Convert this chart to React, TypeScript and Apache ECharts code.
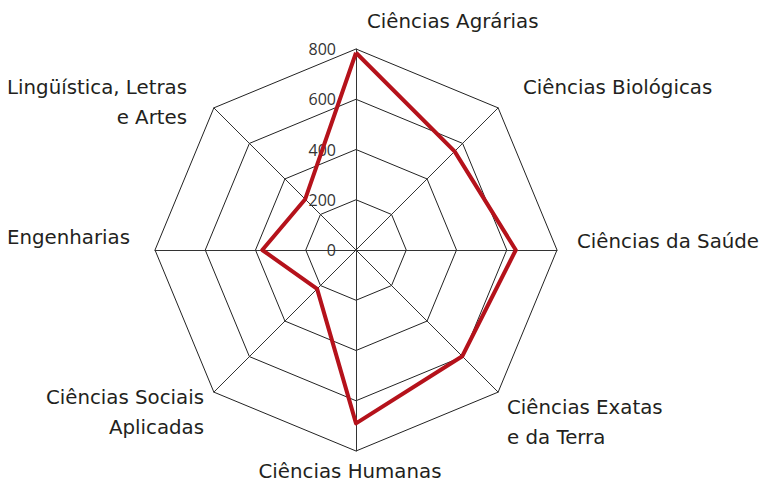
import React, { useEffect, useRef } from "react";
import * as echarts from "echarts";

// Clockwise from the top in the picture
const categories = [
  "Ciências Agrárias",
  "Ciências Biológicas",
  "Ciências da Saúde",
  "Ciências Exatas\ne da Terra",
  "Ciências Humanas",
  "Ciências Sociais\nAplicadas",
  "Engenharias",
  "Lingüística, Letras\ne Artes",
];
const values = [785, 555, 636, 598, 690, 219, 373, 286];
const axisMax = 800;
const tickInterval = 200;

// Layout of the category names (same order as categories)
const nameLayout: { x: number; y: number; align: string }[] = [
  { x: 367, y: 21.5, align: "left" },
  { x: 523, y: 87, align: "left" },
  { x: 577, y: 241, align: "left" },
  { x: 507, y: 422, align: "left" },
  { x: 350, y: 471, align: "center" },
  { x: 204, y: 412, align: "right" },
  { x: 130, y: 237, align: "right" },
  { x: 187, y: 102.5, align: "right" },
];

const TEXT = "#231f20";
const NAME_FONT = "DejaVu Sans";

export default function App() {
  const ref = useRef<HTMLDivElement>(null);
  useEffect(() => {
    if (!ref.current) return;
    const chart = echarts.init(ref.current, undefined, { renderer: "svg" });
    // ECharts radar runs counter-clockwise: reorder (keep first, reverse rest)
    const n = categories.length;
    const order = [0, ...Array.from({ length: n - 1 }, (_, i) => n - 1 - i)];
    const indicator = order.map((i, k) => ({
      name: categories[i],
      max: axisMax,
      min: 0,
      ...(k === 0 ? { axisLabel: { show: true } } : {}),
    }));
    const data = order.map((i) => values[i]);
    const names = categories.map((c, i) => ({
      type: "text",
      x: nameLayout[i].x,
      y: nameLayout[i].y,
      silent: true,
      style: {
        text: c,
        fill: TEXT,
        fontSize: 19.8,
        fontFamily: NAME_FONT,
        align: nameLayout[i].align,
        verticalAlign: "middle",
        lineHeight: 30,
      },
    }));
    chart.setOption({
      animation: false,
      textStyle: { fontFamily: "Open Sans" },
      radar: {
        center: [356, 250],
        radius: 201,
        startAngle: 90,
        shape: "polygon",
        splitNumber: axisMax / tickInterval,
        indicator,
        axisName: { show: false },
        axisLine: { lineStyle: { color: "#333", width: 1 } },
        splitLine: { lineStyle: { color: "#222", width: 1 } },
        splitArea: { show: false },
        axisTick: { show: false },
        axisLabel: {
          show: false,
          color: "#333",
          fontSize: 16,
          fontFamily: "Open Sans",
          margin: 20,
        },
      },
      graphic: names,
      series: [
        {
          type: "radar",
          symbol: "none",
          lineStyle: { color: "#b5121b", width: 4 },
          data: [{ value: data }],
        },
      ],
    });
    return () => chart.dispose();
  }, []);
  return (
    <div
      ref={ref}
      style={{ position: "absolute", left: 0, top: 0, width: 760, height: 483 }}
    />
  );
}
